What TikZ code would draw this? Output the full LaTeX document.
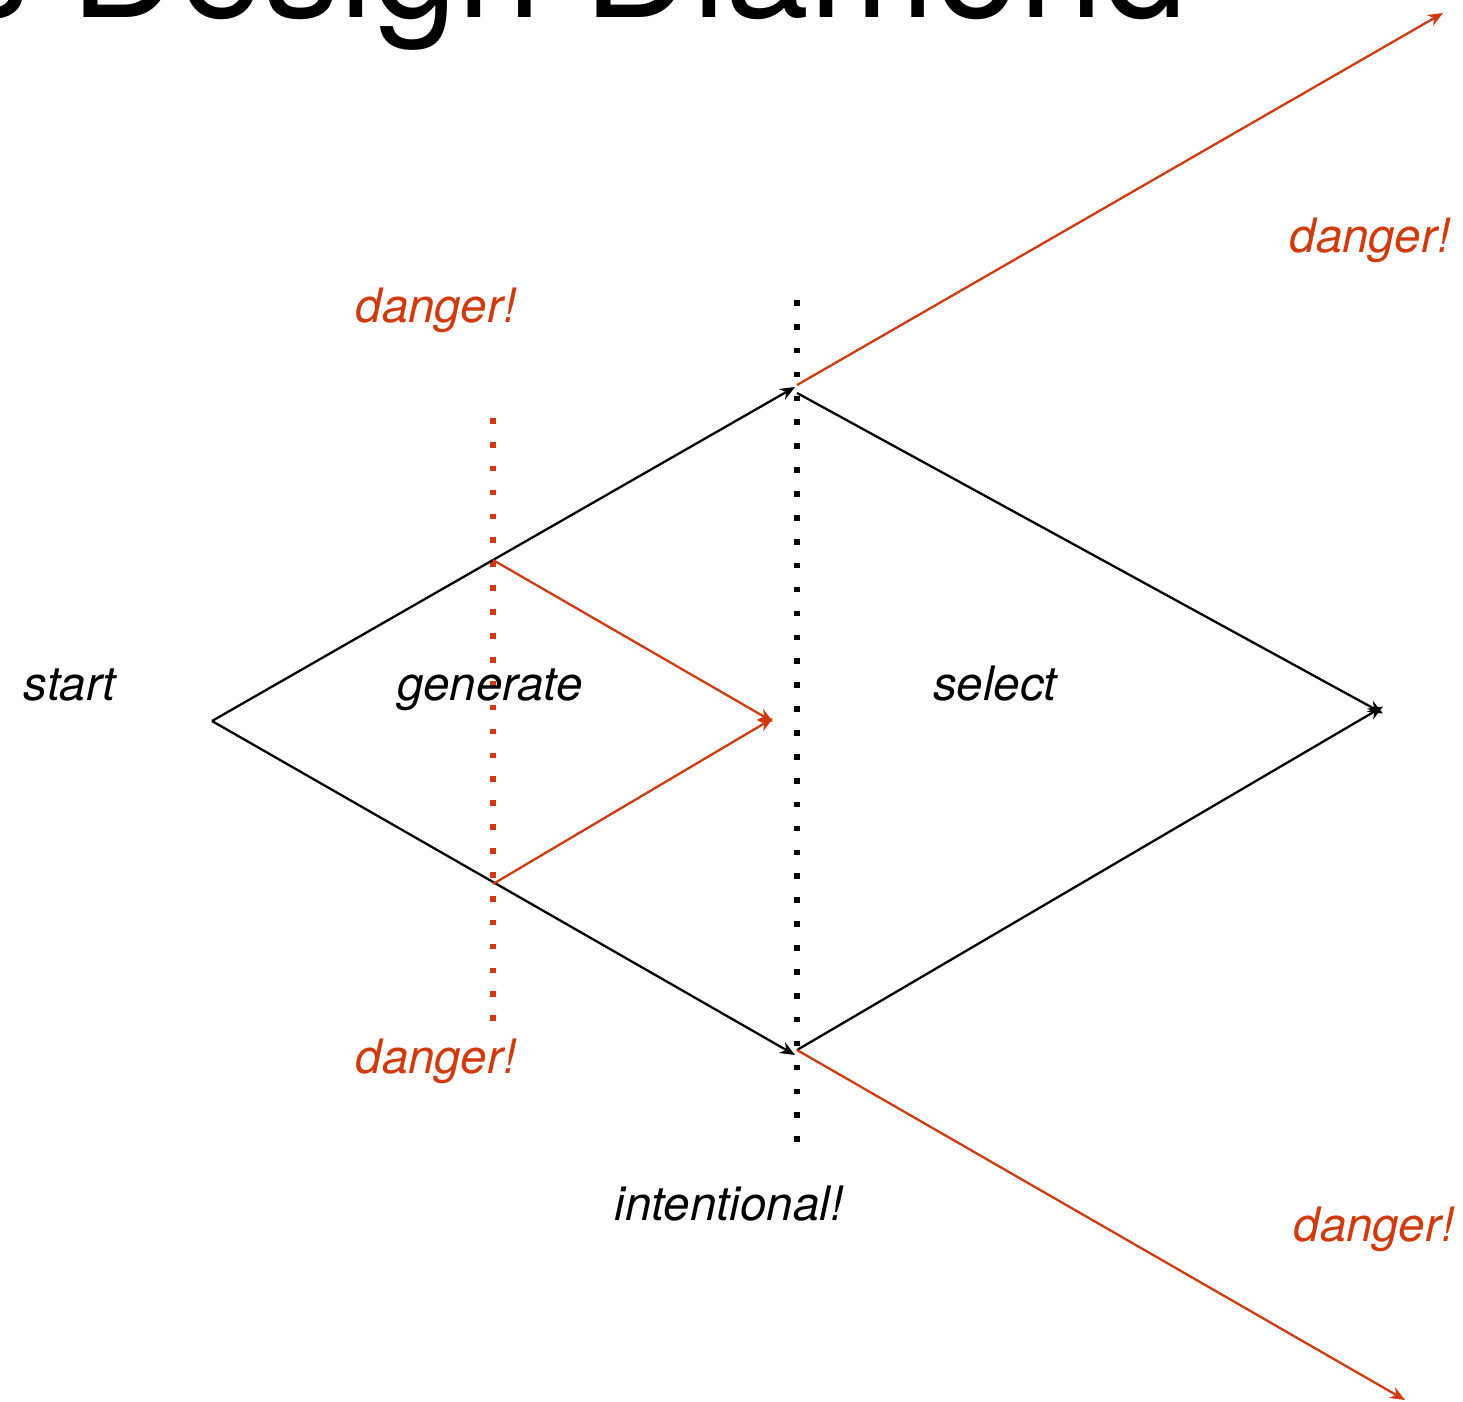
\documentclass[tikz,border=0pt]{standalone}
\usepackage{fontspec}
\setmainfont{TeX Gyre Heros}
\usetikzlibrary{arrows.meta}
\definecolor{dangerred}{RGB}{208,58,12}
\tikzset{
	flow/.style={line width=1.3pt, -{Stealth[length=8.5pt,width=7pt]}},
	hot/.style={flow, draw=dangerred, fill=dangerred},
	gate/.style={line width=3.2pt, line cap=butt, dash pattern=on 3.2pt off 10.4pt},
	lbl/.style={font=\fontsize{27}{30}\selectfont\itshape, inner sep=0pt, anchor=base},
	warn/.style={lbl, text=dangerred}
}
\begin{document}
\begin{tikzpicture}[x=0.02cm, y=-0.02cm, line join=round]
	\useasboundingbox (0,0) rectangle (1463,1402);
	\clip (0,0) rectangle (1463,1402);
	% title, cut by the top edge
	\node[inner sep=0pt, anchor=base east, font=\fontsize{86}{90}\selectfont] (title) at (1188,18) {s Design Diamond};
	% corners of the two diamonds
	\coordinate (start) at (212,721);
	\coordinate (top) at (795,387);
	\coordinate (bot) at (795,1055);
	\coordinate (topout) at (797,393);
	\coordinate (botout) at (797,1050);
	\coordinate (end) at (1383,710);
	\coordinate (genup) at (493,560);
	\coordinate (genlo) at (493,884);
	\coordinate (conv) at (773,720);
	\coordinate (fartop) at (1443,13);
	\coordinate (farbot) at (1405,1400);
	% decision lines
	\draw[gate, dangerred] (493,418) -- (493,1025);
	\draw[gate] (797,300) -- (797,1145);
	% diamonds
	\draw[flow] (start) -- (top);
	\draw[flow] (start) -- (bot);
	\draw[flow] (topout) -- ([yshift=-2]end);
	\draw[flow] (botout) -- ([yshift=2]end);
	\draw[hot] (genup) -- ([yshift=-1]conv);
	\draw[hot] (genlo) -- ([yshift=1]conv);
	\draw[hot] (797,385) -- (fartop);
	\draw[hot] (botout) -- (farbot);
	% labels
	\node[lbl] (lstart) at (70,700) {start};
	\node[lbl] (lgen) at (490,700) {generate};
	\node[lbl] (lsel) at (995,700) {select};
	\node[lbl] (lint) at (729,1220) {intentional!};
	\node[warn] (d1) at (436,322) {danger!};
	\node[warn] (d2) at (1370,253) {danger!};
	\node[warn] (d3) at (436,1073) {danger!};
	\node[warn] (d4) at (1374,1241) {danger!};
\end{tikzpicture}
\end{document}
